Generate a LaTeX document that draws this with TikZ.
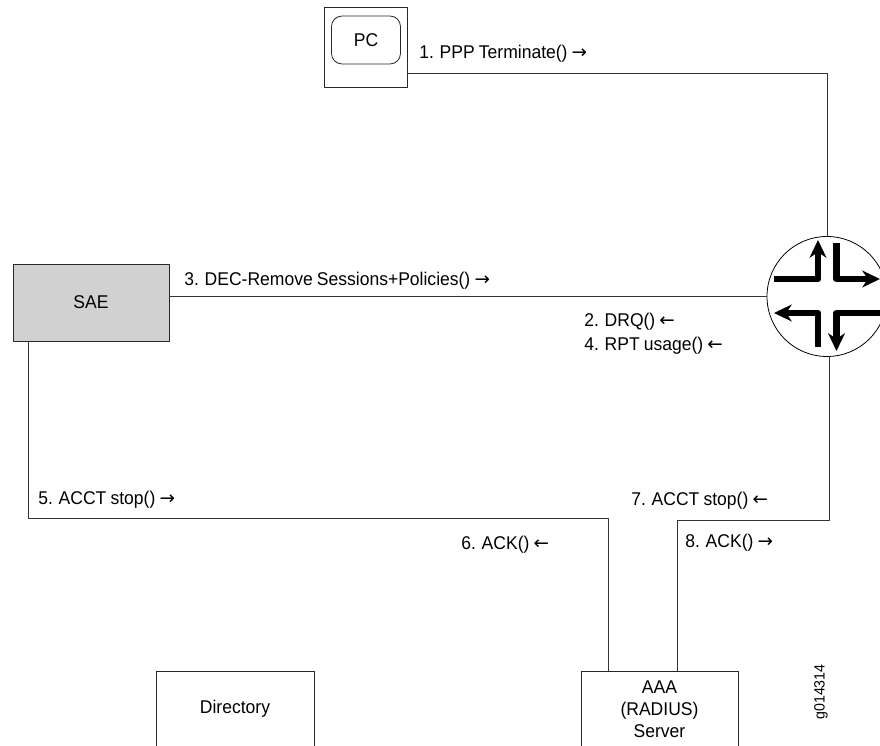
\documentclass[tikz,border=0pt]{standalone}
\usepackage{fontspec}
\setmainfont[FakeStretch=0.95,WordSpace=0.85]{Liberation Sans}
\newfontfamily\arrowfont{DejaVu Sans}
\usetikzlibrary{arrows.meta}
\newcommand{\ra}{{\arrowfont →}}
\newcommand{\la}{{\arrowfont ←}}
\tikzset{
box/.style={draw,rectangle,inner sep=0pt,line width=0.45pt,draw=black!85,align=center},
conn/.style={line width=0.45pt,draw=black!80},
msg/.style={anchor=west,inner sep=0pt},
pathbar/.style={line width=3.7pt,line join=round,-{Stealth[length=10pt,width=9.5pt,inset=3pt]}}
}
\begin{document}
\begin{tikzpicture}[x=0.02cm, y=-0.02cm, font=\fontsize{10.5}{12.6}\selectfont, line join=round]
\useasboundingbox (0,0) rectangle (880,746);
\clip (0,0) rectangle (880,746);
% end devices
\node[box,minimum width=83*0.02cm,minimum height=80*0.02cm] (pc) at (366,47) {};
\node[box,rounded corners=6pt,minimum width=69*0.02cm,minimum height=48*0.02cm] (pcscreen) at (366,40) {PC};
\node[box,fill=black!18,minimum width=156*0.02cm,minimum height=77*0.02cm] (sae) at (91,302.5) {SAE};
\node[box,minimum width=158*0.02cm,minimum height=76*0.02cm] (directory) at (235,709) {Directory};
\node[box,minimum width=157*0.02cm,minimum height=76*0.02cm] (aaa) at (659.5,709) {AAA\\(RADIUS)\\Server};
\node[circle,draw,line width=0.45pt,minimum size=120*0.02cm,inner sep=0pt] (router) at (827,296.5) {};
% router arrows
\draw[pathbar] (774,279)--(818,279)--(818,240);
\draw[pathbar] (836.5,243)--(836.5,279)--(880,279);
\draw[pathbar] (818,347)--(818,313)--(774,313);
\draw[pathbar] (880,313)--(836.5,313)--(836.5,351);
% connectors
\coordinate (pcout) at (407.5,73);
\coordinate (saeout) at (28,341);
\coordinate (routerout) at (829,356.5);
\coordinate (aaaleft) at (608,671);
\coordinate (aaaright) at (677,671);
\draw[conn] (pcout) -| (router.north);
\draw[conn] (router.west) -- (router.west -| sae.east);
\draw[conn] (saeout) |- (608,518) -- (aaaleft);
\draw[conn] (routerout) |- (677,520) -- (aaaright);
% labels
\node[msg] (m1) at (419,54) {1. PPP Terminate() \ra};
\node[msg] (m3) at (184,281) {3. DEC-Remove Sessions+Policies() \ra};
\node[msg] (m2) at (584,322) {2. DRQ() \la};
\node[msg] (m4) at (584,346) {4. RPT usage() \la};
\node[msg] (m5) at (38,500) {5. ACCT stop() \ra};
\node[msg] (m6) at (461,545) {6. ACK() \la};
\node[msg] (m7) at (631,501) {7. ACCT stop() \la};
\node[msg] (m8) at (685,543) {8. ACK() \ra};
\node[rotate=90,inner sep=0pt,font=\fontsize{8.5}{10}\selectfont] (figid) at (821,692) {g014314};
\end{tikzpicture}
\end{document}
